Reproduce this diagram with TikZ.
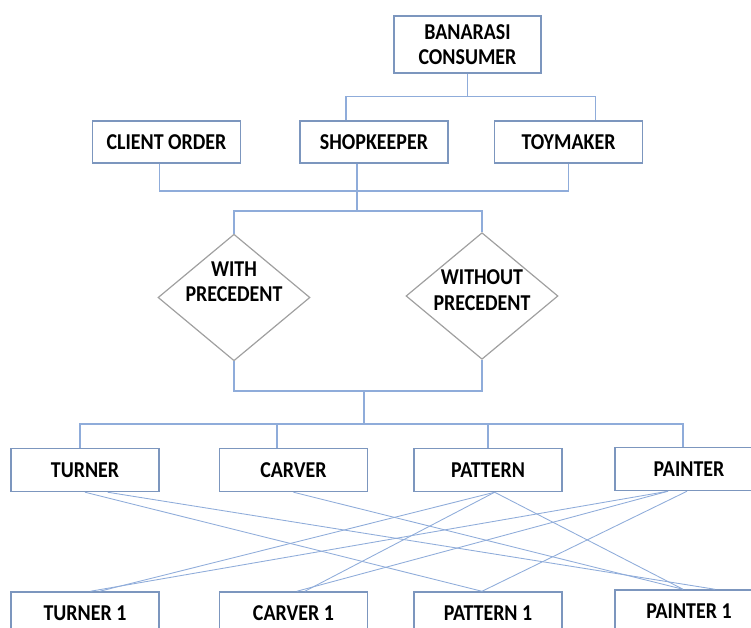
\documentclass[tikz,border=0pt]{standalone}
\usepackage{fontspec}
\setmainfont[FakeStretch=0.88]{Carlito}
\usetikzlibrary{shapes.geometric}
\definecolor{boxline}{RGB}{124,150,190}
\definecolor{linkline}{RGB}{143,172,218}
\definecolor{dline}{RGB}{160,160,160}
\begin{document}
\begin{tikzpicture}[x=0.75pt,y=-0.75pt,
		blk/.style={draw=boxline,line width=1.1pt,minimum width=111pt,minimum height=32.25pt,inner sep=0pt,align=center,font=\bfseries\fontsize{17}{19}\selectfont},
		choice/.style={diamond,draw=dline,line width=0.9pt,minimum width=114pt,minimum height=95pt,inner sep=0pt},
		lbl/.style={align=center,inner sep=0pt,font=\bfseries\fontsize{17}{19}\selectfont},
		link/.style={draw=linkline,line width=0.8pt},
		cross/.style={draw=linkline,line width=0.65pt}]
	\useasboundingbox (0,0) rectangle (751,628);
	\clip (0,0) rectangle (751,628);

	% people
	\node[blk,minimum width=110pt,minimum height=42.75pt] (banarasi) at (467.5,44.5) {BANARASI\\CONSUMER};
	\node[blk,minimum height=31.5pt] (client) at (166.5,142) {CLIENT ORDER};
	\node[blk,minimum height=31.5pt] (shop) at (374,142) {SHOPKEEPER};
	\node[blk,minimum height=31.5pt] (toy) at (568.5,142) {TOYMAKER};

	% decision
	\node[choice,label={[lbl,yshift=12pt]center:{WITH\\PRECEDENT}}] (withp) at (234,297.5) {};
	\node[choice,label={[lbl,yshift=4.5pt]center:{WITHOUT\\PRECEDENT}}] (without) at (482,296) {};

	% crafts
	\node[blk] (turner) at (85,470) {TURNER};
	\node[blk] (carver) at (293.5,470) {CARVER};
	\node[blk] (pattern) at (488,470) {PATTERN};
	\node[blk] (painter) at (689,469) {PAINTER};
	\node[blk] (turner1) at (85,613.5) {TURNER 1};
	\node[blk] (carver1) at (293.5,613.5) {CARVER 1};
	\node[blk] (pattern1) at (488,613.5) {PATTERN 1};
	\node[blk] (painter1) at (689,611.5) {PAINTER 1};

	% buses
	\draw[link] (banarasi.south) -- ++(0,23) coordinate (busA);
	\draw[link] ([xshift=-21pt]shop.north) |- (busA) -| ([xshift=20pt]toy.north);

	\coordinate (busB) at (357,191);
	\coordinate (busC) at (357,211);
	\draw[link] ([xshift=-5.5pt]client.south) |- (busB) -| (toy.south);
	\draw[link] (shop.south -| busB) -- (busC);
	\draw[link] (withp.north) |- (busC) -| (without.north);

	\coordinate (busD) at (364,391);
	\coordinate (busE) at (364,424);
	\draw[link] (withp.south) |- (busD) -| (without.south);
	\draw[link] (busD) -- (busE);
	\draw[link] ([xshift=-3.75pt]turner.north) |- (busE) -| ([xshift=-4.5pt]painter.north);
	\path ([xshift=-12.4pt]carver.north) coordinate (cv);
	\draw[link] (cv) -- (cv |- busE);
	\draw[link] (pattern.north) -- (pattern.north |- busE);

	% crossing
	\foreach \s/\sx/\t/\tx in {turner/0/pattern1/-4.5, turner/17/painter1/19.5,
			carver/0/painter1/-4.5, pattern/5/turner1/11, pattern/5/carver1/8.5,
			pattern/5/painter1/-4.5, painter/-15.75/turner1/4,
			painter/-15.75/carver1/2.5, painter/-1.5/pattern1/-4.5}
		\draw[cross] ([xshift=\sx pt]\s.south) -- ([xshift=\tx pt]\t.north);
\end{tikzpicture}
\end{document}
